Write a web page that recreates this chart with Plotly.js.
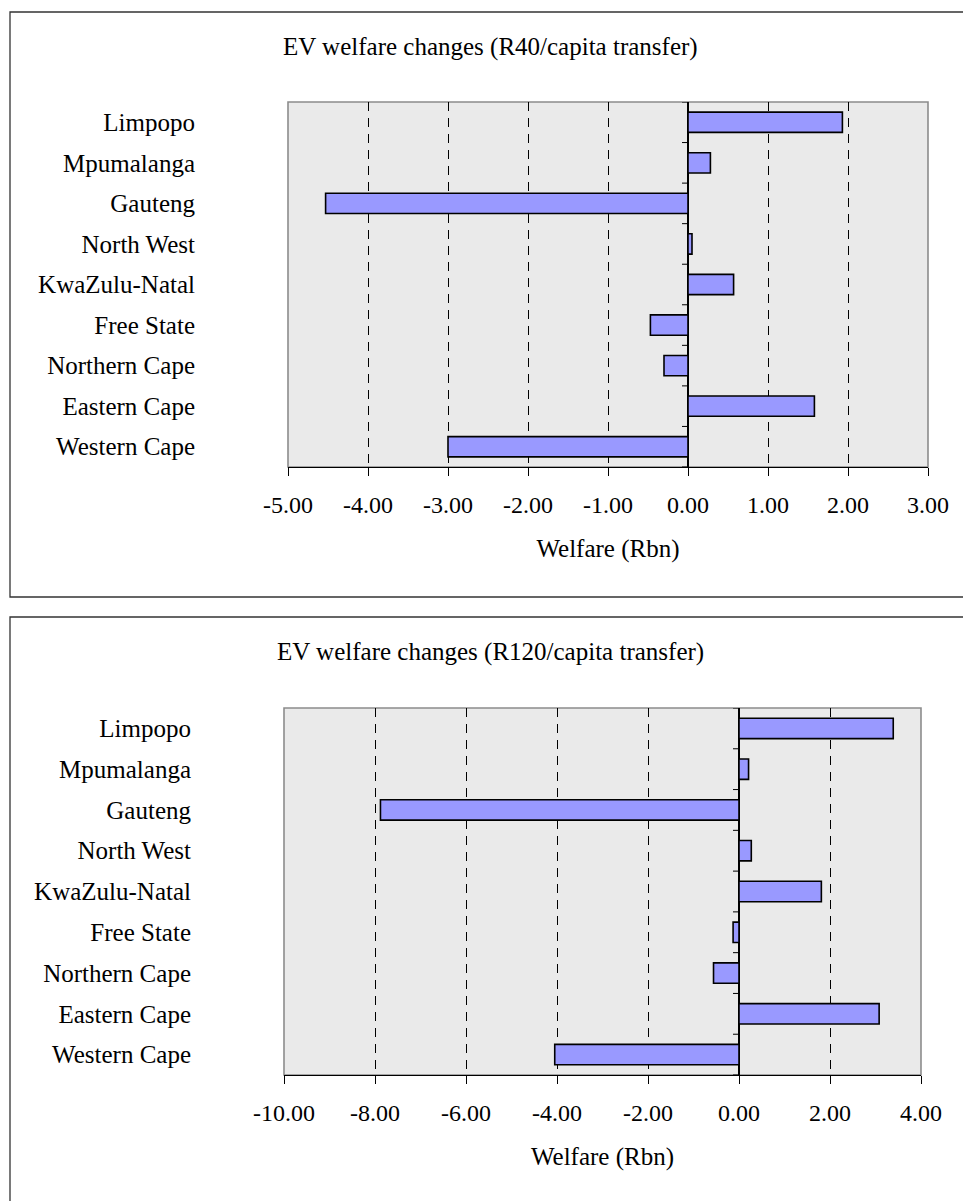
<!DOCTYPE html>
<html>
<head>
<meta charset="utf-8">
<script src="https://cdn.plot.ly/plotly-3.0.1.min.js"></script>
<style>html,body{margin:0;padding:0;background:#fff;}#chart{width:963px;height:1201px;}</style>
</head>
<body>
<div id="chart"></div>
<script>
// Data (categories listed top to bottom as in the chart)
const provinces = ["Limpopo", "Mpumalanga", "Gauteng", "North West", "KwaZulu-Natal",
                   "Free State", "Northern Cape", "Eastern Cape", "Western Cape"];
const welfareR40  = [1.93, 0.28, -4.53, 0.05, 0.57, -0.47, -0.30, 1.58, -3.00];
const welfareR120 = [3.39, 0.21, -7.88, 0.27, 1.81, -0.13, -0.56, 3.08, -4.05];
const ticksR40  = [-5, -4, -3, -2, -1, 0, 1, 2, 3];
const tickTextR40  = ["-5.00", "-4.00", "-3.00", "-2.00", "-1.00", "0.00", "1.00", "2.00", "3.00"];
const ticksR120 = [-10, -8, -6, -4, -2, 0, 2, 4];
const tickTextR120 = ["-10.00", "-8.00", "-6.00", "-4.00", "-2.00", "0.00", "2.00", "4.00"];
const titleR40  = "EV welfare changes (R40/capita transfer)";
const titleR120 = "EV welfare changes (R120/capita transfer)";
const xTitle = "Welfare (Rbn)";

const W = 963, H = 1201;
const FONT = "Liberation Serif, Times New Roman, serif";
const px = v => v / W;
const py = v => 1 - v / H;

const barStyle = {color: "#9999FF", line: {color: "#000000", width: 1.6}};

const traces = [
  {type: "bar", orientation: "h", y: provinces, x: welfareR40, width: 0.5,
   marker: barStyle, xaxis: "x", yaxis: "y", hoverinfo: "x+y"},
  {type: "bar", orientation: "h", y: provinces, x: welfareR120, width: 0.5,
   marker: barStyle, xaxis: "x2", yaxis: "y2", hoverinfo: "x+y"}
];

function xAxis(domain, vals, texts, anchor) {
  return {
    domain: domain, range: [vals[0], vals[vals.length - 1]], anchor: anchor,
    tickmode: "array", tickvals: vals, ticktext: texts,
    ticks: "outside", ticklen: 8, tickcolor: "#000", tickwidth: 1,
    showline: true, linecolor: "#000", linewidth: 1.2,
    showgrid: true, gridcolor: "#000", gridwidth: 1, griddash: "9px,7px",
    zeroline: true, zerolinecolor: "#000", zerolinewidth: 1.4,
    tickfont: {family: FONT, size: 24, color: "#000"},
    ticklabelstandoff: 8,
    title: {text: xTitle, font: {family: FONT, size: 25, color: "#000"}, standoff: 22},
    fixedrange: true
  };
}
function yAxis(domain, anchor) {
  return {
    domain: domain, anchor: anchor, type: "category",
    categoryorder: "array", categoryarray: provinces,
    range: [provinces.length - 0.5, -0.5],
    showgrid: false, zeroline: false, showline: false, ticks: "",
    tickfont: {family: FONT, size: 25, color: "#000"},
    ticklabelstandoff: 92,
    fixedrange: true
  };
}

const shapes = [];
// outer chart boxes
shapes.push({type: "rect", xref: "paper", yref: "paper", x0: px(10), x1: px(975), y0: py(597), y1: py(12),
             line: {color: "#333", width: 1.3}, fillcolor: "rgba(0,0,0,0)", layer: "below"});
shapes.push({type: "rect", xref: "paper", yref: "paper", x0: px(10), x1: px(975), y0: py(1215), y1: py(617),
             line: {color: "#333", width: 1.3}, fillcolor: "rgba(0,0,0,0)", layer: "below"});
// plot area frames
[["x", "y"], ["x2", "y2"]].forEach(([xa, ya]) => {
  shapes.push({type: "rect", xref: xa + " domain", yref: ya + " domain", x0: 0, x1: 1, y0: 0, y1: 1,
               line: {color: "#8c8c8c", width: 1.6}, fillcolor: "rgba(0,0,0,0)", layer: "below"});
  // category boundary ticks on the zero axis
  for (let i = 0; i <= provinces.length; i++) {
    shapes.push({type: "line", xref: xa, yref: ya, xsizemode: "pixel", xanchor: 0,
                 x0: -6, x1: 0, y0: i - 0.5, y1: i - 0.5,
                 line: {color: "#000", width: 1}});
  }
});

const annotations = [
  {text: titleR40, xref: "paper", yref: "paper", x: px(490), y: py(47), showarrow: false,
   xanchor: "center", yanchor: "middle", font: {family: FONT, size: 25, color: "#000"}},
  {text: titleR120, xref: "paper", yref: "paper", x: px(490), y: py(652), showarrow: false,
   xanchor: "center", yanchor: "middle", font: {family: FONT, size: 25, color: "#000"}}
];

const layout = {
  width: W, height: H,
  margin: {l: 0, r: 0, t: 0, b: 0},
  paper_bgcolor: "#ffffff", plot_bgcolor: "#eaeaea",
  showlegend: false,
  font: {family: FONT, color: "#000"},
  xaxis: xAxis([px(288), px(928)], ticksR40, tickTextR40, "y"),
  yaxis: yAxis([py(467), py(102)], "x"),
  xaxis2: xAxis([px(284), px(921)], ticksR120, tickTextR120, "y2"),
  yaxis2: yAxis([py(1075), py(708)], "x2"),
  shapes: shapes,
  annotations: annotations
};

Plotly.newPlot("chart", traces, layout, {displayModeBar: false, staticPlot: true});
</script>
</body>
</html>
